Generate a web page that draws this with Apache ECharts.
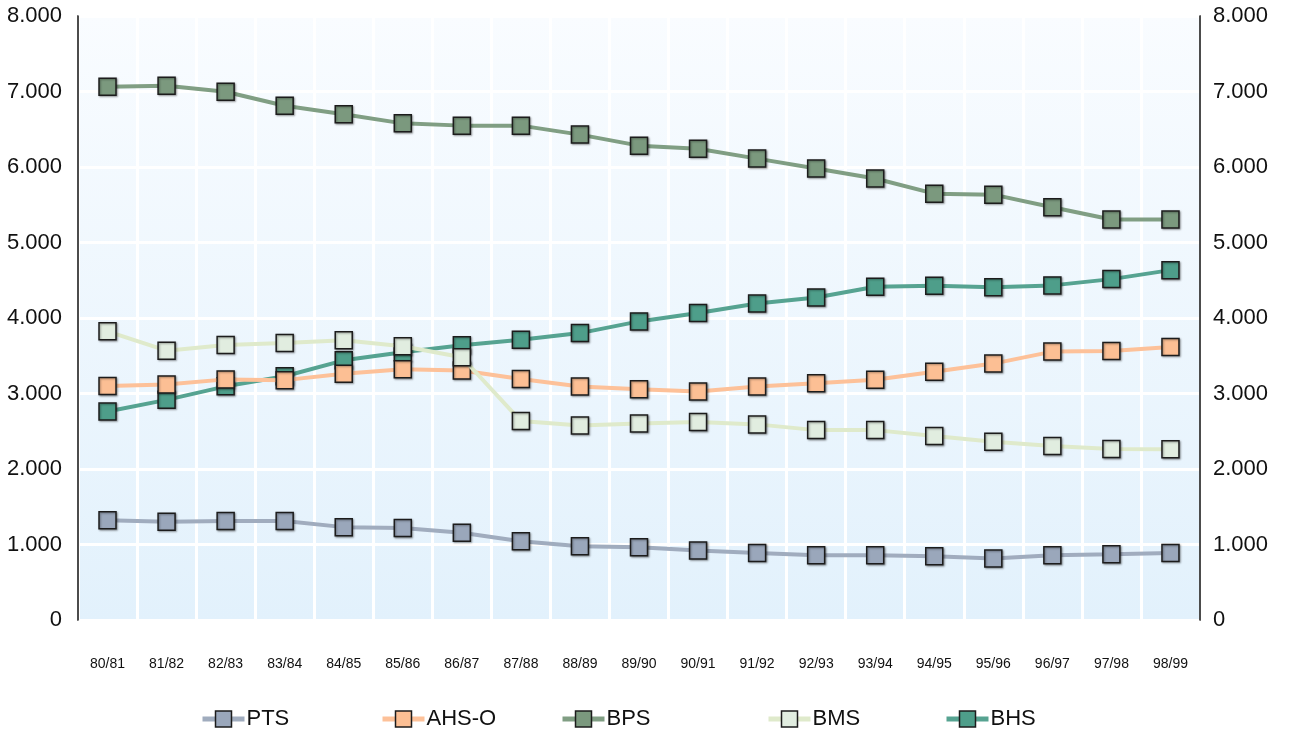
<!DOCTYPE html>
<html>
<head>
<meta charset="utf-8">
<script src="https://cdn.jsdelivr.net/npm/echarts@6/dist/echarts.min.js"></script>
<style>
html,body{margin:0;padding:0;background:#fff;}
#chart{width:1289px;height:732px;}
</style>
</head>
<body>
<div id="chart"></div>
<script>
const categories = ['80/81','81/82','82/83','83/84','84/85','85/86','86/87','87/88','88/89','89/90','90/91','91/92','92/93','93/94','94/95','95/96','96/97','97/98','98/99'];
const ptsValues  = [1320,1300,1310,1310,1230,1218,1156,1044,978,964,920,889,858,858,844,813,858,871,889];
const ahsValues  = [3098,3120,3187,3177,3262,3320,3306,3191,3093,3057,3027,3093,3137,3181,3287,3396,3555,3564,3617];
const bpsValues  = [7063,7077,6997,6812,6700,6578,6548,6548,6429,6283,6243,6111,5979,5847,5647,5634,5466,5304,5304];
const bmsValues  = [3824,3567,3643,3669,3705,3625,3480,2635,2577,2604,2621,2591,2515,2515,2436,2361,2304,2264,2260];
const bhsValues  = [2762,2916,3095,3228,3439,3545,3638,3711,3800,3955,4067,4191,4271,4413,4427,4406,4432,4515,4634];
const yTicks = [0,1000,2000,3000,4000,5000,6000,7000,8000];

const FONT = "'Liberation Sans',Arial,sans-serif";

function fmt(v){
  if (v === 0) return '0';
  const s = String(Math.round(v));
  return s.replace(/\B(?=(\d{3})+(?!\d))/g, '.');
}

function mk(name, data, lineColor, fillColor, z){
  return {
    name: name, type: 'line', data: data, z: z,
    symbol: 'rect', symbolSize: 17,
    lineStyle: {color: lineColor, width: 4},
    itemStyle: {color: fillColor, borderColor: '#1c1c1c', borderWidth: 1.5,
      shadowColor: 'rgba(0,0,0,0.35)', shadowBlur: 2, shadowOffsetX: 1, shadowOffsetY: 1},
    emphasis: {disabled: true},
    animation: false
  };
}

const series = [
  mk('BHS', bhsValues, '#56a391', '#4e9e8a', 2),
  mk('BPS', bpsValues, '#809e83', '#7b997e', 3),
  mk('PTS', ptsValues, '#a0acbe', '#9aa7bb', 4),
  mk('AHS-O', ahsValues, '#fdc199', '#fcbf94', 5),
  mk('BMS', bmsValues, '#dfeacb', '#e1ede0', 6)
];

const legendPos = [['PTS',200],['AHS-O',380],['BPS',560],['BMS',766],['BHS',944]];
const legends = legendPos.map(p => ({
  data: [p[0]], left: p[1], top: 708, itemWidth: 42, itemHeight: 20, padding: 0,
  lineStyle: {width: 5},
  itemStyle: {borderWidth: 1.5, shadowBlur: 0, shadowOffsetX: 0, shadowOffsetY: 0},
  textStyle: {fontFamily: FONT, fontSize: 22, color: '#111', padding:[0,0,0,-3]},
  selectedMode: false
}));

const chart = echarts.init(document.getElementById('chart'), null, {renderer: 'canvas'});
chart.setOption({
  animation: false,
  backgroundColor: '#ffffff',
  legend: legends,
  grid: {
    left: 78, right: 89, top: 16, bottom: 112,
    show: true, borderColor: '#8a8a8a', borderWidth: 1.5,
    backgroundColor: new echarts.graphic.LinearGradient(0,0,0,1,[
      {offset:0, color:'#f9fcff'},
      {offset:1, color:'#e2f1fc'}
    ])
  },
  xAxis: {
    type: 'category', data: categories, boundaryGap: true,
    axisLine: {show: false},
    axisTick: {show: false},
    axisLabel: {fontFamily: FONT, fontSize: 14, color: '#111', margin: 37, interval: 0},
    splitLine: {show: true, interval: 0, lineStyle: {color: '#ffffff', width: 3}}
  },
  yAxis: [
    {
      type: 'value', min: 0, max: 8000, interval: 1000, position: 'left',
      axisLine: {show: true, lineStyle: {color: '#111', width: 1.5}},
      axisTick: {show: false},
      axisLabel: {fontFamily: FONT, fontSize: 22, color: '#111', margin: 16, formatter: fmt, padding: [6,0,0,0]},
      splitLine: {show: true, lineStyle: {color: '#ffffff', width: 3}}
    },
    {
      type: 'value', min: 0, max: 8000, interval: 1000, position: 'right',
      axisLine: {show: true, lineStyle: {color: '#111', width: 1.5}},
      axisTick: {show: false},
      axisLabel: {fontFamily: FONT, fontSize: 22, color: '#111', margin: 13, formatter: fmt, padding: [6,0,0,0]},
      splitLine: {show: false}
    }
  ],
  series: series
});
</script>
</body>
</html>
